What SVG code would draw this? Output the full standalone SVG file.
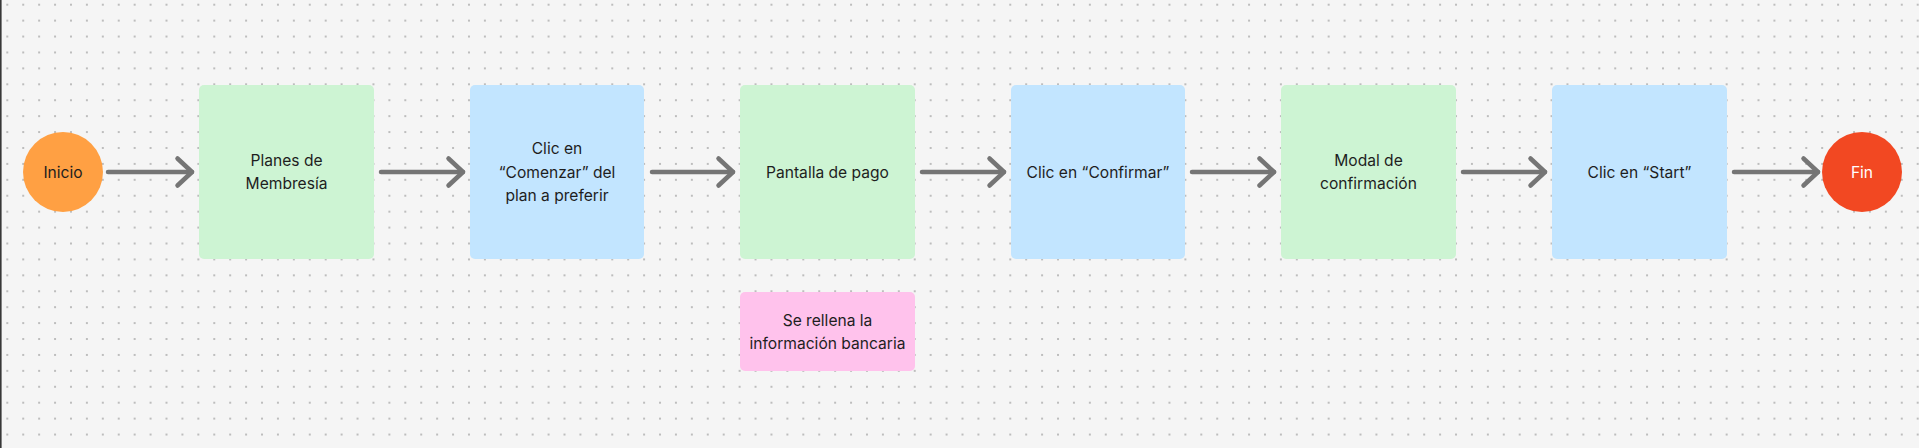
<svg xmlns="http://www.w3.org/2000/svg" width="1919" height="448" viewBox="0 0 1919 448">
  <defs>
    <pattern id="dots" x="7.3" y="4.7" width="15.92" height="15.92" patternUnits="userSpaceOnUse">
      <rect x="-1" y="-1" width="2" height="2" fill="#bdbdbd"/>
      <rect x="14.92" y="-1" width="2" height="2" fill="#bdbdbd"/>
      <rect x="-1" y="14.92" width="2" height="2" fill="#bdbdbd"/>
      <rect x="14.92" y="14.92" width="2" height="2" fill="#bdbdbd"/>
    </pattern>
    <marker id="chev" markerUnits="userSpaceOnUse" viewBox="-20 -20 26 40" markerWidth="26" markerHeight="40" refX="0" refY="0" orient="auto" overflow="visible">
      <path d="M-14.5,-13.5 L0,0 L-14.5,13.5" fill="none" stroke="#757575" stroke-width="4.5" stroke-linecap="round" stroke-linejoin="round"/>
    </marker>
  </defs>
  <style>
    .box { stroke: none; }
    .green { fill: #CDF4D3; }
    .blue { fill: #C2E5FF; }
    .pink { fill: #FFC2EC; }
    .lbl { font-family: Inter, "Liberation Sans", sans-serif; font-size: 15.6px; fill: #1e1e1e; text-anchor: middle; }
    .white { fill: #ffffff; }
    .conn { fill: none; stroke: #757575; stroke-width: 4.5; stroke-linecap: round; marker-end: url(#chev); }
  </style>
  <rect x="0" y="0" width="1919" height="448" fill="#F5F5F5"/>
  <rect x="0" y="0" width="1919" height="448" fill="url(#dots)"/>
  <rect x="0" y="0" width="1.6" height="448" fill="#383838"/>

  <g id="connectors">
    <line class="conn" x1="108" y1="172" x2="192" y2="172"/>
    <line class="conn" x1="381" y1="172" x2="463" y2="172"/>
    <line class="conn" x1="652" y1="172" x2="733" y2="172"/>
    <line class="conn" x1="922" y1="172" x2="1004" y2="172"/>
    <line class="conn" x1="1192" y1="172" x2="1274" y2="172"/>
    <line class="conn" x1="1463" y1="172" x2="1545" y2="172"/>
    <line class="conn" x1="1734" y1="172" x2="1818" y2="172"/>
  </g>

  <g id="inicio">
    <circle cx="63" cy="172" r="40" fill="#FFA043"/>
    <text class="lbl" x="63" y="177.6">Inicio</text>
  </g>

  <g id="planes">
    <rect class="box green" x="199" y="85" width="175" height="174" rx="5"/>
    <text class="lbl" x="286.5" y="165.9">Planes de</text>
    <text class="lbl" x="286.5" y="189.4">Membresía</text>
  </g>

  <g id="comenzar">
    <rect class="box blue" x="470" y="85" width="174" height="174" rx="5"/>
    <text class="lbl" x="557" y="154.2">Clic en</text>
    <text class="lbl" x="557" y="177.7">“Comenzar” del</text>
    <text class="lbl" x="557" y="201.2">plan a preferir</text>
  </g>

  <g id="pantalla">
    <rect class="box green" x="740" y="85" width="175" height="174" rx="5"/>
    <text class="lbl" x="827.5" y="177.6">Pantalla de pago</text>
  </g>

  <g id="nota">
    <rect class="box pink" x="740" y="292" width="175" height="79" rx="5"/>
    <text class="lbl" x="827.5" y="325.5">Se rellena la</text>
    <text class="lbl" x="827.5" y="349">información bancaria</text>
  </g>

  <g id="confirmar">
    <rect class="box blue" x="1011" y="85" width="174" height="174" rx="5"/>
    <text class="lbl" x="1098" y="177.6">Clic en “Confirmar”</text>
  </g>

  <g id="modal">
    <rect class="box green" x="1281" y="85" width="175" height="174" rx="5"/>
    <text class="lbl" x="1368.5" y="165.9">Modal de</text>
    <text class="lbl" x="1368.5" y="189.4">confirmación</text>
  </g>

  <g id="start">
    <rect class="box blue" x="1552" y="85" width="175" height="174" rx="5"/>
    <text class="lbl" x="1639.5" y="177.6">Clic en “Start”</text>
  </g>

  <g id="fin">
    <circle cx="1862" cy="172" r="40" fill="#F24822"/>
    <text class="lbl white" x="1862" y="177.6">Fin</text>
  </g>
</svg>
